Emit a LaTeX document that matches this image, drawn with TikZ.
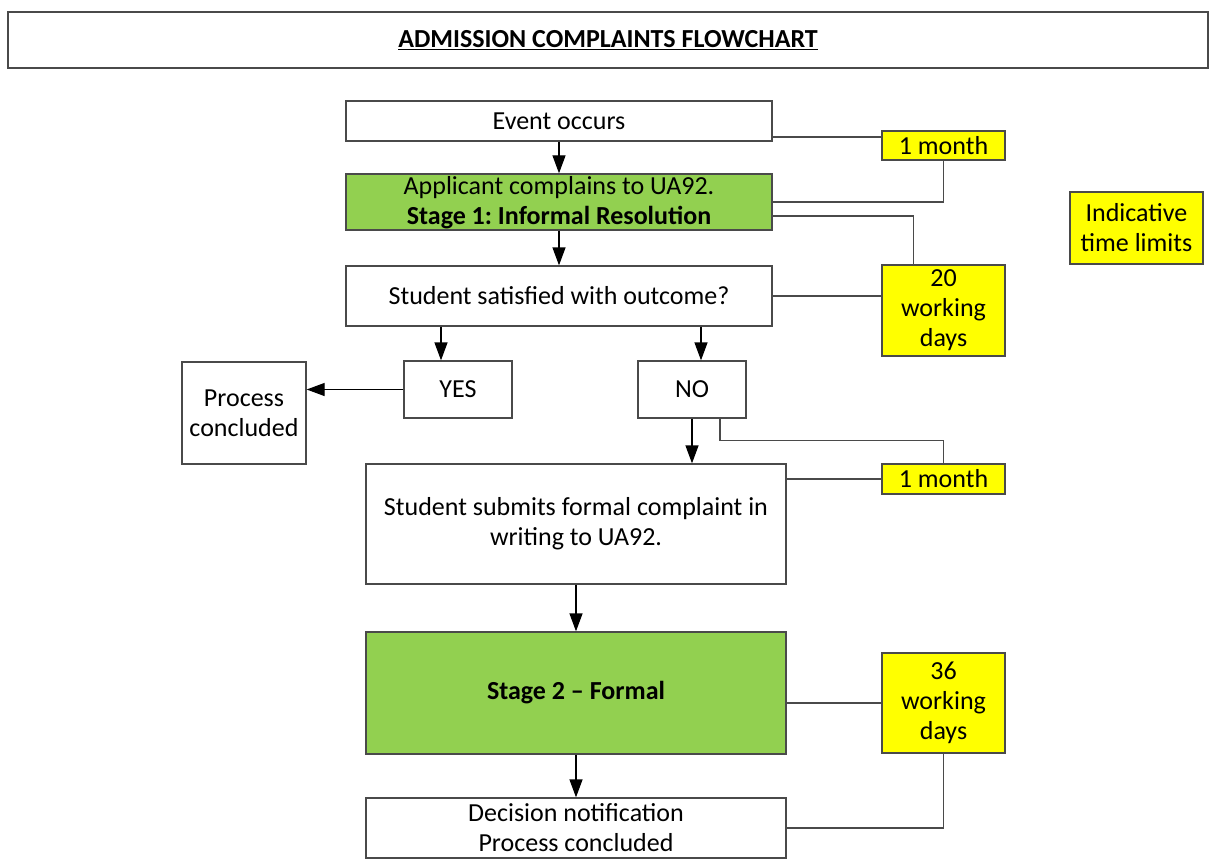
\documentclass[tikz,border=0pt]{standalone}
\usepackage{fontspec}
\setmainfont{Carlito}
\usetikzlibrary{arrows.meta}
\definecolor{gfill}{HTML}{92D050}
\definecolor{yfill}{HTML}{FFFF00}
\definecolor{lcol}{HTML}{4A4A4A}
\frenchspacing
\begin{document}
\begin{tikzpicture}[x=1pt,y=-1pt,
  box/.style={draw=lcol, line width=1.3pt, fill=white, inner sep=2pt, align=center,
    font=\fontsize{26}{30}\selectfont, text=black},
  gbox/.style={box, fill=gfill},
  ybox/.style={box, fill=yfill, font=\fontsize{26}{30}\selectfont},
  ln/.style={draw=lcol, line width=1.3pt},
  arr/.style={ln, -{Triangle[length=18pt,width=13pt]}, draw=black}]
\useasboundingbox[fill=white] (0,0) rectangle (1209,864);
\node[box, minimum width=1200pt, minimum height=56pt, font=\fontsize{26}{30}\selectfont\bfseries] (title) at (608,40) {\underline{ADMISSION COMPLAINTS FLOWCHART}};
\node[box, minimum width=426pt, minimum height=40pt] (event) at (559,121) {Event occurs};
\node[gbox, minimum width=426pt, minimum height=56pt, text depth=4pt] (appl) at (559,202) {Applicant complains to UA92.\\\textbf{Stage 1: Informal Resolution}};
\node[box, minimum width=426pt, minimum height=60pt] (sat) at (559,296) {Student satisfied with outcome?};
\node[box, minimum width=108pt, minimum height=57pt] (yes) at (458,389.5) {YES};
\node[box, minimum width=108pt, minimum height=57pt] (no) at (692,389.5) {NO};
\node[box, minimum width=124pt, minimum height=102pt] (proc) at (244,413) {Process\\concluded};
\node[box, minimum width=420pt, minimum height=120pt] (sub) at (576,524) {Student submits formal complaint in\\writing to UA92.};
\node[gbox, minimum width=420pt, minimum height=122pt] (st2) at (576,693) {\textbf{Stage 2 -- Formal}};
\node[box, minimum width=420pt, minimum height=60pt] (dec) at (576,828) {Decision notification\\Process concluded};
\node[ybox, minimum width=123pt, minimum height=29pt, inner sep=0pt] (ya) at (943.5,145.5) {1 month};
\node[ybox, minimum width=123pt, minimum height=91pt] (yb) at (943.5,310.5) {20\\working\\days};
\node[ybox, minimum width=123pt, minimum height=30pt, inner sep=0pt] (yc) at (943.5,479) {1 month};
\node[ybox, minimum width=123pt, minimum height=100pt] (yd) at (943.5,703) {36\\working\\days};
\node[ybox, minimum width=133pt, minimum height=72pt] (ind) at (1136.5,228) {Indicative\\time limits};
% arrows
\draw[arr] (event.south) -- (appl.north);
\draw[arr] (appl.south) -- (sat.north);
\draw[arr] ([xshift=-17pt]yes.north |- sat.south) -- ([xshift=-17pt]yes.north);
\draw[arr] ([xshift=9pt]no.north |- sat.south) -- ([xshift=9pt]no.north);
\draw[arr] (yes.west) -- (proc.east |- yes.west);
\draw[arr] (no.south) -- (sub.north -| no.south);
\draw[arr] (sub.south) -- (st2.north);
\draw[arr] (st2.south) -- (dec.north);
% time-limit lines
\coordinate (c1) at ([yshift=-16pt]event.east);
\draw[ln] (c1) -- (c1 -| ya.west);
\draw[ln] (ya.south) |- (appl.east);
\coordinate (c2) at ([yshift=-14pt]appl.east);
\draw[ln] (c2) -| ([xshift=-30pt]yb.north);
\draw[ln] (sat.east) -- (sat.east -| yb.west);
\draw[ln] ([xshift=28pt]no.south) -- ++(0,22) -| (yc.north);
\draw[ln] (sub.east |- yc.west) -- (yc.west);
\draw[ln] (st2.east |- yd.west) -- (yd.west);
\draw[ln] (yd.south) |- (dec.east);
\end{tikzpicture}
\end{document}
